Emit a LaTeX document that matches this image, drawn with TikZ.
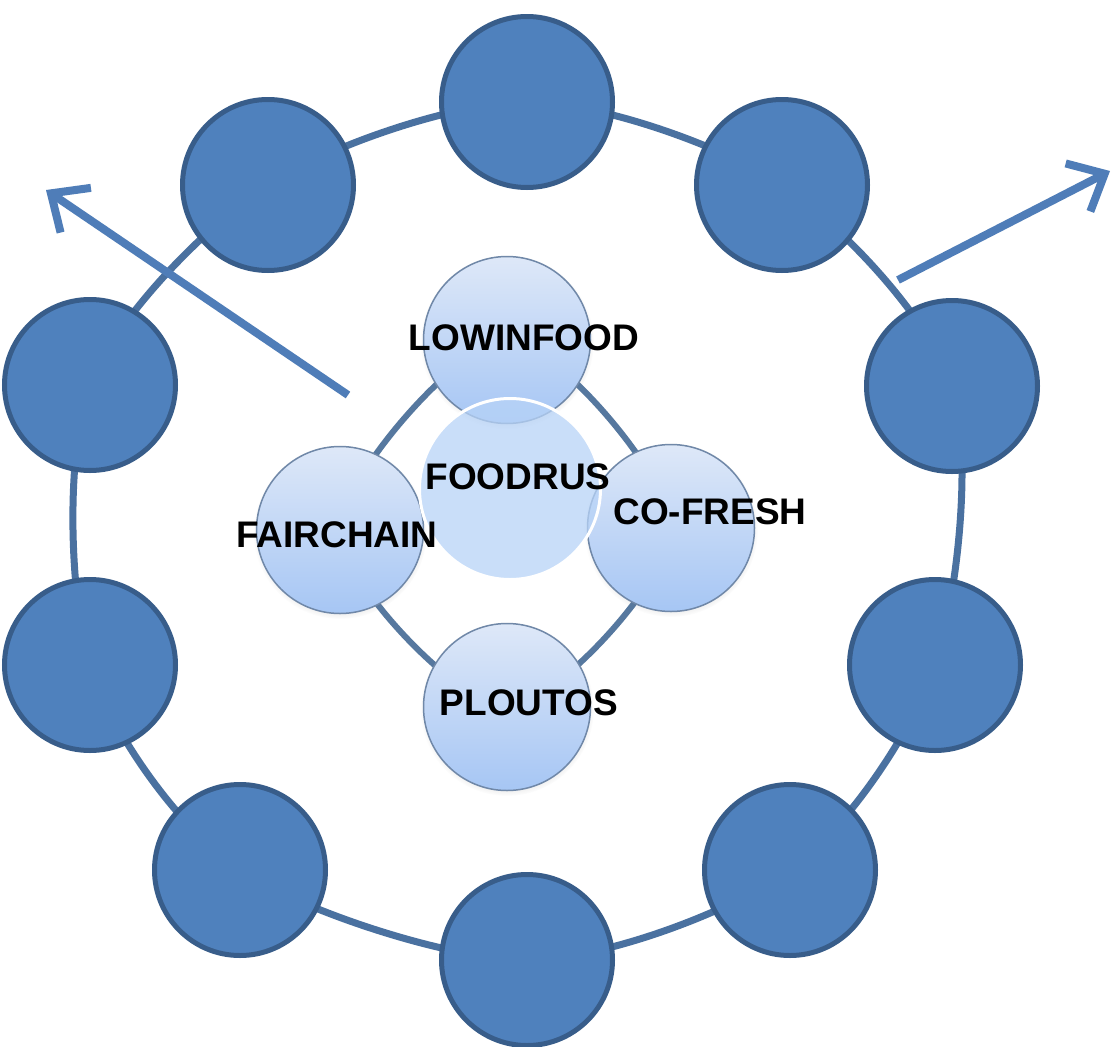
\documentclass[tikz,border=0pt]{standalone}
\usepackage{fontspec}
\setmainfont{Liberation Sans}
\usetikzlibrary{arrows.meta,backgrounds,shadows}
\definecolor{outerfill}{HTML}{4F81BD}
\definecolor{outerline}{HTML}{385D8A}
\definecolor{ringcol}{HTML}{4A71A0}
\definecolor{arrowcol}{HTML}{4F7DB8}
\definecolor{innertop}{HTML}{DEE8F8}
\definecolor{innerbot}{HTML}{A6C6F4}
\definecolor{innerline}{HTML}{7088A8}
\definecolor{innerring}{HTML}{56789F}
\definecolor{hubfill}{HTML}{B7D3F7}
\begin{document}
\begin{tikzpicture}[x=1pt,y=-1pt,
  outer/.style={circle, minimum size=171pt, inner sep=0pt, fill=outerfill, draw=outerline, line width=5pt},
  inner/.style={circle, minimum size=167pt, inner sep=0pt, top color=innertop, bottom color=innerbot, draw=innerline, line width=1.5pt,
    circular drop shadow={shadow xshift=0pt, shadow yshift=-2pt, opacity=0.25, shadow scale=1.04}},
  hub/.style={circle, minimum size=181pt, inner sep=0pt, fill=hubfill, fill opacity=0.75, draw=white, line width=3pt},
  lbl/.style={font=\bfseries\fontsize{37}{40}\selectfont, inner sep=0pt, text=black},
  ring/.style={draw=ringcol, line width=7pt},
  iring/.style={draw=innerring, line width=6pt},
  outarrow/.style={draw=arrowcol, line width=8pt, -{Straight Barb[length=30pt,width=54pt]}}
]
\useasboundingbox (0,0) rectangle (1120,1047);
% outer circles
\node[outer] (o1) at (527,102) {};
\node[outer] (o2) at (782,185) {};
\node[outer] (o3) at (952,386) {};
\node[outer] (o4) at (935,665) {};
\node[outer] (o5) at (790,870) {};
\node[outer] (o6) at (527,960) {};
\node[outer] (o7) at (240,870) {};
\node[outer] (o8) at (90,665) {};
\node[outer] (o9) at (90,385) {};
\node[outer] (o10) at (268,185) {};
% inner circles
\node[inner] (low) at (507,340) {};
\node[inner] (co) at (671,528) {};
\node[inner] (plo) at (507,707) {};
\node[inner] (fair) at (340,530) {};
\node[hub] (hub) at (510,489) {};
% rings behind
\begin{scope}[on background layer]
  \fill[white] (0,0) rectangle (1120,1047);
  \draw[ring] plot[smooth cycle] coordinates {(o1) (o2) (o3) (o4) (o5) (o6) (o7) (o8) (o9) (o10)};
  \draw[iring] plot[smooth cycle] coordinates {(low) (co) (plo) (fair)};
\end{scope}
% arrows
\coordinate (la1) at (348,395);
\coordinate (la2) at (46,190);
\coordinate (ra1) at (898,280);
\coordinate (ra2) at (1110,171);
\draw[outarrow] (la1) -- (la2);
\draw[outarrow] (ra1) -- (ra2);
% labels
\node[lbl] (tLow) at (524,338) {LOWINFOOD};
\node[lbl] (tFood) at (518,477) {FOODRUS};
\node[lbl] (tCo) at (710,512) {CO-FRESH};
\node[lbl] (tFair) at (337,535) {FAIRCHAIN};
\node[lbl] (tPlo) at (529,703) {PLOUTOS};
\end{tikzpicture}
\end{document}
